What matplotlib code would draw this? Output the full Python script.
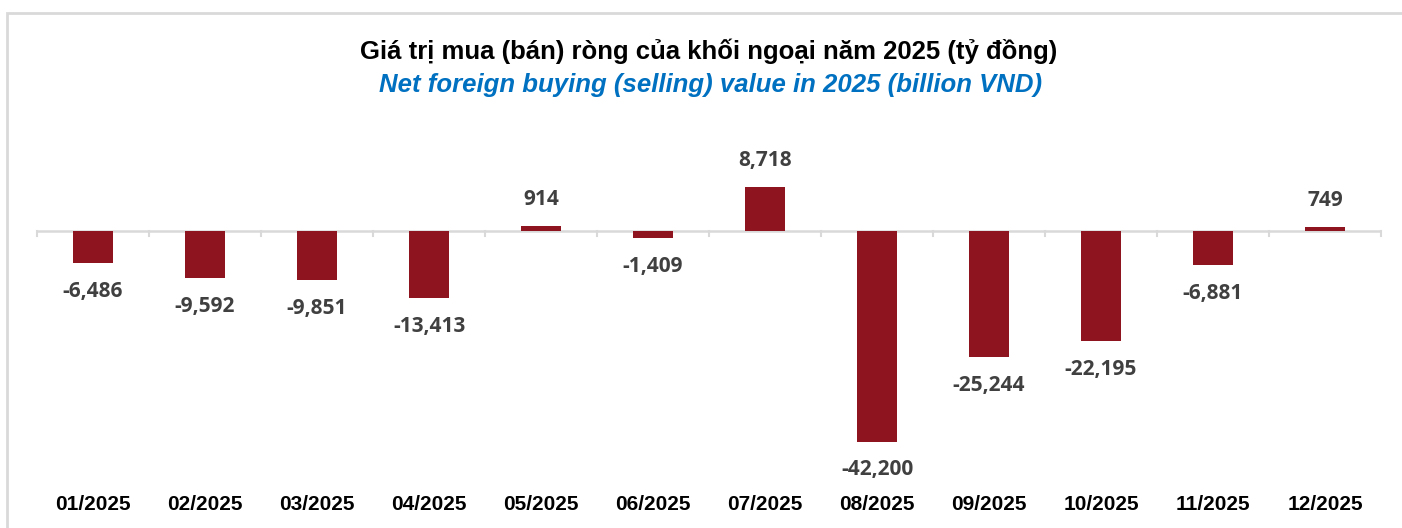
import matplotlib
matplotlib.use("Agg")
import matplotlib.pyplot as plt
from matplotlib.patches import Rectangle

months = ["01/2025", "02/2025", "03/2025", "04/2025", "05/2025", "06/2025",
          "07/2025", "08/2025", "09/2025", "10/2025", "11/2025", "12/2025"]
net_value = [-6486, -9592, -9851, -13413, 914, -1409,
             8718, -42200, -25244, -22195, -6881, 749]

title_vn = "Giá trị mua (bán) ròng của khối ngoại năm 2025 (tỷ đồng)"
title_en = "Net foreign buying (selling) value in 2025 (billion VND)"

bar_color = "#8E1520"
grid_gray = "#d9d9d9"

W, H = 1402, 528
fig = plt.figure(figsize=(W / 100, H / 100), dpi=100)

# outer frame (only top and left edges visible in the original)
fig.patches.append(Rectangle((7 / W, -0.5), 2, 1.5 - 13 / H, transform=fig.transFigure,
                             fill=False, edgecolor=grid_gray, linewidth=2))

ax_top, ax_bot = 120, 460
ax = fig.add_axes([37 / W, 1 - ax_bot / H, (1381 - 37) / W, (ax_bot - ax_top) / H])
scale = 0.005  # px per unit
zero_px = 230.5
ax.set_ylim(-(ax_bot - zero_px) / scale, (zero_px - ax_top) / scale)
ax.set_xlim(-0.5, len(months) - 0.5)

x = range(len(months))
ax.bar(x, net_value, width=0.36, color=bar_color, zorder=3)

for i, v in enumerate(net_value):
    off = 5300 if v >= 0 else -5700
    ax.text(i, v + off, f"{v:,}", ha="center", va="center", fontsize=15,
            fontweight="bold", color="#404040", family="Open Sans")

for s in ax.spines.values():
    s.set_visible(False)
ax.axhline(0, color=grid_gray, linewidth=1.8, zorder=2)
ax.set_yticks([])
ax.set_xticks([])
# small tick marks between categories
for b in range(len(months) + 1):
    ax.plot([b - 0.5, b - 0.5], [0, -1000], color=grid_gray,
            linewidth=1.5, zorder=2, clip_on=False)

for i, m in enumerate(months):
    fig.text((37 + 112 * (i + 0.5)) / W, 1 - 505 / H, m, ha="center", va="center",
             fontsize=15, fontweight="bold", family="Liberation Sans", color="black")

fig.text(709 / W, 1 - 51 / H, title_vn, ha="center", va="center", fontsize=18.5,
         fontweight="bold", family="Liberation Sans", color="black")
fig.text(711 / W, 1 - 85 / H, title_en, ha="center", va="center", fontsize=18.5,
         fontweight="bold", style="italic", family="Liberation Sans", color="#0070C0")

fig.savefig("out.png", dpi=100)
